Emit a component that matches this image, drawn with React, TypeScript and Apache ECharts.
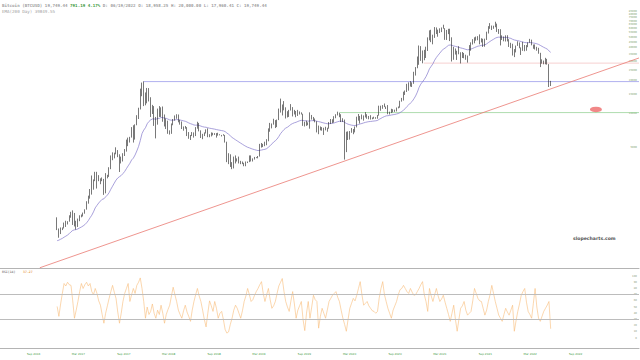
import React, { useEffect, useRef } from "react";
import * as echarts from "echarts";

// ---- weekly bars (week starting on the date, first week 2017-01-01) ----
const firstWeek = "2017-01-01";
const firstOpen = 998;

const weeklyClose = [
  // 2017
  910, 820, 925, 915, 1015, 1000, 1050, 1150, 1270, 1230, 1030, 960, 1080, 1180, 1180, 1250, 1350, 1550, 1750, 2050,
  2050, 2510, 2950, 2510, 2590, 2500, 2500, 1930, 2750, 2750, 3230, 4060, 4080, 4380, 4600, 4200, 3700, 3700, 4400, 4800,
  5700, 6000, 6150, 7400, 5950, 8000, 9700, 11250, 15000, 19100, 14000, 12600,
  // 2018
  17100, 14000, 12800, 11400, 9100, 8100, 11100, 9700, 11500, 8900, 7900, 8500, 6900, 6900, 8000, 8900, 9350, 9800, 8500, 8200,
  7480, 7700, 7600, 6500, 6150, 6400, 6750, 6250, 7400, 8200, 7050, 6250, 6400, 6700, 7200, 6400, 6500, 6700, 6650, 6600,
  6300, 6450, 6450, 6350, 6400, 5600, 3900, 4200, 3400, 3200, 3950, 3800,
  // 2019
  3850, 3650, 3700, 3580, 3500, 3650, 3650, 4100, 3830, 3950, 4050, 4000, 4100, 5050, 5070, 5300, 5200, 5800, 7000, 7300,
  8050, 8550, 7800, 8800, 10700, 11900, 11000, 11400, 10500, 9500, 10800, 11300, 10350, 10100, 9600, 10500, 10350, 9950, 8200, 8150,
  8300, 7950, 9250, 9300, 8800, 8500, 7300, 7550, 7500, 7100, 7150, 7300,
  // 2020
  7400, 8100, 8900, 8450, 9350, 9850, 9900, 9700, 8550, 8900, 5350, 5850, 6250, 6750, 6900, 7250, 7550, 8900, 9550, 9400,
  9200, 9700, 9650, 9450, 9350, 9000, 9100, 9250, 9150, 9700, 11800, 11600, 11900, 11700, 11500, 10150, 10400, 11100, 10700, 10600,
  11300, 11350, 13100, 13800, 15000, 16050, 18700, 17750, 19150, 18800, 23850, 26450, 32200,
  // 2021
  40250, 36000, 32100, 34300, 39300, 47200, 55900, 46300, 48900, 61200, 58100, 55900, 57100, 59800, 60000, 50000, 57800, 58800, 46400, 37500,
  34700, 35800, 35500, 35500, 32300, 34700, 33800, 31800, 33800, 41500, 44600, 47100, 49200, 48900, 50000, 45100, 48300, 42800, 48200, 54900,
  60900, 61300, 62000, 61500, 64200, 59700, 54800, 49300, 49400, 46800, 50800, 47700,
  // 2022
  41800, 43100, 35100, 37900, 41600, 42200, 40100, 39100, 39000, 38800, 42200, 44500, 45800, 42800, 40400, 39700, 37700, 35500, 30100, 29400,
  29000, 29700, 28400, 19000, 19750,
];

const weeklyHigh = [
  // 2017
  1150, 910, 930, 930, 1030, 1070, 1060, 1200, 1290, 1330, 1260, 1070, 1120, 1200, 1220, 1270, 1360, 1610, 1810, 2080,
  2760, 2540, 2980, 2980, 2780, 2600, 2650, 2570, 2900, 2800, 3280, 4200, 4480, 4450, 4980, 4700, 4300, 4100, 4400, 4800,
  5850, 6100, 6200, 7600, 7900, 8050, 9750, 11400, 17000, 19300, 19800, 15700,
  // 2018
  17250, 17200, 14200, 12100, 11800, 9400, 11200, 11800, 11500, 11700, 9900, 9100, 8700, 7100, 8200, 9000, 9700, 9950, 9900, 8850,
  8550, 7700, 7780, 7600, 6850, 6450, 6850, 6800, 7600, 8500, 8300, 7100, 6600, 6800, 7250, 7400, 6550, 6800, 6750, 6700,
  6700, 6750, 6550, 6450, 6550, 6450, 5600, 4400, 4300, 3650, 4100, 4200,
  // 2019
  3950, 4100, 3750, 3700, 3600, 3700, 3700, 4200, 4200, 3950, 4070, 4050, 4150, 5350, 5450, 5350, 5600, 5900, 7400, 8300,
  8200, 9050, 8800, 8900, 11200, 13800, 12200, 13100, 11500, 10600, 10900, 12300, 11550, 10900, 10650, 10900, 10550, 10350, 10050, 8500,
  8700, 8400, 10350, 9800, 9400, 9100, 8600, 7850, 7700, 7600, 7500, 7650,
  // 2020
  7500, 8450, 9000, 8950, 9550, 9950, 10500, 10250, 9950, 9150, 8900, 6900, 6950, 7000, 7450, 7300, 7700, 9450, 10000, 9600,
  9900, 9700, 10400, 9950, 9600, 9750, 9300, 9450, 9350, 9800, 11900, 11900, 12050, 12450, 11700, 12050, 10500, 11150, 11050, 10950,
  11450, 11700, 13200, 14000, 15950, 16350, 18800, 19400, 19900, 19400, 24200, 26700, 33300,
  // 2021
  41950, 41400, 37800, 38300, 40900, 49700, 57600, 58300, 52600, 61700, 61200, 58500, 60100, 61200, 64800, 60300, 58100, 59500, 59600, 49800,
  40800, 39400, 37600, 41300, 36400, 36600, 35900, 34600, 34000, 42300, 44800, 47900, 49800, 50500, 51000, 52900, 48800, 48300, 48400, 56000,
  62900, 67000, 63700, 63500, 69000, 66300, 59200, 59000, 51900, 50600, 51900, 52000,
  // 2022
  47900, 44400, 43500, 38900, 41900, 45800, 44700, 40300, 45300, 42400, 42300, 44800, 48200, 47400, 42800, 42900, 40800, 40000, 36000, 31400,
  30600, 32400, 31700, 28400, 20000,
];

const weeklyLow = [
  // 2017
  880, 750, 810, 880, 910, 940, 990, 1050, 1140, 980, 950, 890, 940, 1060, 1150, 1170, 1240, 1350, 1530, 1700,
  1850, 2050, 2450, 2100, 2450, 2300, 2450, 1840, 1900, 2600, 2680, 3150, 3800, 3950, 4300, 4050, 2970, 3550, 3700, 4150,
  4550, 5100, 5500, 6100, 5500, 5850, 7900, 9000, 11000, 14500, 11800, 12000,
  // 2018
  12500, 13000, 9400, 10000, 7800, 6000, 8000, 9400, 9400, 8500, 7700, 7300, 6600, 6500, 6600, 7900, 8700, 9050, 8400, 8000,
  7300, 7050, 7350, 6300, 5950, 5800, 6300, 6100, 6300, 7350, 6950, 6050, 5900, 6300, 6650, 6150, 6150, 6250, 6400, 6450,
  6100, 6350, 6400, 6250, 6350, 5500, 3650, 3500, 3300, 3150, 3200, 3550,
  // 2019
  3700, 3550, 3500, 3500, 3350, 3350, 3580, 3650, 3700, 3700, 3850, 3970, 3950, 4100, 4950, 5000, 5100, 5200, 5650, 6900,
  7400, 8000, 7450, 7600, 8800, 10300, 9700, 10800, 9100, 9300, 9400, 10750, 9500, 9900, 9350, 9600, 9900, 9900, 7800, 7700,
  7800, 7900, 7350, 8900, 8700, 8400, 6800, 6550, 7100, 7050, 6450, 7100,
  // 2020
  6900, 7350, 8100, 8250, 8350, 9150, 9700, 9350, 8450, 8450, 3850, 4500, 5800, 5850, 6750, 6550, 6800, 7550, 8700, 8200,
  8950, 8700, 9300, 9050, 8950, 8900, 8950, 9050, 9050, 9050, 9650, 10700, 11150, 11550, 11100, 9950, 9900, 10200, 10350, 10450,
  10550, 11250, 11400, 12950, 13250, 14900, 15850, 16300, 17750, 17600, 18800, 22350, 26050,
  // 2021
  28000, 30400, 28900, 30800, 32300, 37400, 46700, 45000, 43000, 49200, 53300, 50400, 54500, 55500, 59600, 47200, 47100, 53200, 46000, 30000,
  31100, 34700, 31000, 34900, 28800, 32300, 32100, 31100, 29300, 33900, 37600, 42800, 43900, 46400, 46800, 43000, 44700, 40700, 40900, 47100,
  53900, 59500, 58000, 59500, 61500, 55700, 53500, 42000, 47100, 45800, 45600, 45700,
  // 2022
  40700, 39700, 34000, 32900, 36300, 41600, 39600, 34400, 37500, 37200, 37600, 40500, 44400, 42100, 39200, 38600, 37600, 35300, 26700, 28700,
  28300, 28300, 28100, 17600, 17960,
];

// RSI(14), one reading per week
const rsi14 = [
  51, 35, 55, 72, 88, 84, 90, 86, 85, 60,
  32, 45, 59, 75, 88, 80, 86, 90, 84, 88,
  75, 70, 80, 72, 60, 53, 38, 24, 40, 52,
  64, 75, 85, 74, 64, 42, 24, 40, 59, 72,
  80, 88, 59, 70, 80, 72, 85, 90, 97, 80,
  59, 32, 50, 38, 43, 55, 40, 32, 45, 38,
  53, 40, 24, 38, 46, 53, 68, 82, 70, 59,
  45, 38, 32, 44, 53, 42, 35, 27, 45, 59,
  70, 80, 68, 59, 45, 30, 18, 40, 60, 52,
  43, 59, 48, 32, 40, 43, 30, 14, 8, 10,
  22, 32, 45, 53, 48, 40, 32, 44, 59, 68,
  80, 70, 59, 62, 69, 75, 80, 86, 91, 72,
  59, 70, 80, 62, 48, 52, 59, 72, 84, 90,
  96, 75, 59, 50, 43, 60, 75, 55, 32, 45,
  52, 59, 30, 12, 40, 59, 32, 50, 69, 62,
  59, 16, 35, 48, 40, 32, 45, 59, 64, 69,
  72, 75, 66, 59, 45, 32, 22, 11, 30, 48,
  56, 64, 60, 69, 80, 91, 70, 53, 56, 59,
  52, 48, 44, 43, 40, 43, 65, 80, 91, 70,
  59, 48, 40, 32, 45, 52, 59, 70, 78, 80,
  85, 80, 75, 72, 80, 74, 69, 70, 75, 80,
  86, 91, 70, 59, 43, 80, 68, 59, 70, 80,
  68, 59, 63, 69, 58, 48, 38, 27, 40, 53,
  30, 11, 30, 48, 52, 59, 45, 37, 40, 43,
  60, 80, 72, 64, 60, 59, 48, 37, 45, 59,
  70, 85, 72, 59, 48, 37, 32, 27, 38, 48,
  42, 37, 45, 53, 11, 28, 43, 55, 69, 75,
  80, 58, 43, 38, 32, 56, 80, 50, 32, 27,
  35, 43, 48, 53, 59, 15,
];

const emaSeed = 690; // EMA(200 Day) level at the first bar
const emaDays = 200;

// ---- axes ----
const xStart = "2016-05-15";
const xEnd = "2023-06-11";
const dateTicks = [
  "2016-09-01", "2017-03-01", "2017-09-01", "2018-03-01", "2018-09-01", "2019-03-01", "2019-09-01",
  "2020-03-01", "2020-09-01", "2021-03-01", "2021-09-01", "2022-03-01", "2022-09-01",
];
const priceMin = 398;
const priceMax = 108730;
const priceTicks = [
  5000, 10000, 15000, 20000, 25000, 30000, 35000, 40000, 45000, 50000, 55000, 60000, 65000, 70000, 75000, 80000, 85000, 90000,
];
const rsiTicks = [0, 10, 20, 30, 40, 50, 60, 70, 80, 90, 100];
const rsiBands = [30, 70];

// ---- drawn lines ----
const level2017: [string, number][] = [["2017-12-17", 19700], [xEnd, 19700]];
const level2020: [string, number][] = [["2020-02-16", 10300], [xEnd, 10300]];
const level2021: [string, number][] = [["2021-01-22", 29000], [xEnd, 29000]];
const trendLine: [string, number][] = [["2016-10-23", 400], [xEnd, 32300]];
const alertMark: [string, number][] = [["2022-12-19", 11000]];

// ---- texts ----
const hdrName = "Bitcoin (BTCUSD) 19,749.44 ";
const hdrChange = "791.19 4.17%";
const hdrRest = " D: 06/19/2022 O: 18,958.25 H: 20,000.00 L: 17,960.41 C: 19,749.44";
const emaLabel = "EMA(200 Day) 39849.55";
const rsiLabel = "RSI(14)";
const rsiValue = "37.27";
const watermark = "slopecharts.com";
const MONTHS = ["Jan", "Feb", "Mar", "Apr", "May", "Jun", "Jul", "Aug", "Sep", "Oct", "Nov", "Dec"];

export default function App() {
  const ref = useRef<HTMLDivElement>(null);

  useEffect(() => {
    if (!ref.current) return;
    const chart = echarts.init(ref.current, null, { renderer: "svg" });
    const t = (s: string) => Date.parse(s);
    const WEEK = 7 * 86400000;
    const t0 = t(firstWeek);
    const dates = weeklyClose.map((_, i) => t0 + i * WEEK);
    const candles = weeklyClose.map((c, i) => [
      dates[i],
      i === 0 ? firstOpen : weeklyClose[i - 1],
      c,
      weeklyLow[i],
      weeklyHigh[i],
    ]);
    const alpha = 2 / (emaDays / 7 + 1);
    let e = emaSeed;
    const ema = weeklyClose.map((c, i) => {
      e = e + alpha * (c - e);
      return [dates[i], e];
    });
    const rsi = rsi14.map((v, i) => [dates[i], v]);
    const pts = (arr: [string, number][]) => arr.map(([d, v]) => [t(d), v]);

    const mono = "DejaVu Sans Mono";
    const hline = (data: [string, number][], color: string) => ({
      type: "line",
      xAxisIndex: 0,
      yAxisIndex: 0,
      data: pts(data),
      symbol: "none",
      silent: true,
      lineStyle: { color, width: 0.8 },
      z: 1,
    });

    chart.setOption({
      animation: false,
      backgroundColor: "#ffffff",
      textStyle: { fontFamily: "DejaVu Sans" },
      title: [
        {
          left: 2,
          top: 3,
          padding: 0,
          text: `{g|${hdrName}}{u|${hdrChange}}{g|${hdrRest}}`,
          textStyle: {
            rich: {
              g: { fontFamily: mono, fontSize: 4.2, color: "#a0a0a0", lineHeight: 5 },
              u: { fontFamily: mono, fontSize: 4.2, color: "#3c9a3c", fontWeight: "bold", lineHeight: 5 },
            },
          },
        },
        {
          left: 2,
          top: 9,
          padding: 0,
          text: emaLabel,
          textStyle: { fontFamily: mono, fontSize: 4.2, color: "#a0a0a0", fontWeight: "normal", lineHeight: 5 },
        },
        {
          left: 2,
          top: 269.5,
          padding: 0,
          text: `{g|${rsiLabel}}{s|    }{o|${rsiValue}}`,
          textStyle: {
            rich: {
              g: { fontFamily: mono, fontSize: 3.2, color: "#8c8c8c", lineHeight: 4 },
              s: { fontFamily: mono, fontSize: 3.2, lineHeight: 4 },
              o: { fontFamily: mono, fontSize: 3.2, color: "#e8a050", lineHeight: 4 },
            },
          },
        },
      ],
      graphic: [
        {
          type: "text",
          left: 573,
          top: 236,
          style: {
            text: watermark,
            fontSize: 4.6,
            fontWeight: "bold",
            fill: "#555555",
            fontFamily: "DejaVu Sans",
          },
        },
      ],
      grid: [
        { left: 0, right: 0, top: 0, height: 268 },
        { left: 0, right: 0, top: 268, height: 80 },
      ],
      xAxis: [
        {
          type: "value",
          gridIndex: 0,
          min: t(xStart),
          max: t(xEnd),
          axisLine: { show: true, onZero: false, lineStyle: { color: "#b4b4b4", width: 1 } },
          axisTick: { show: false },
          axisLabel: { show: false },
          splitLine: { show: false },
        },
        {
          type: "value",
          gridIndex: 1,
          min: t(xStart),
          max: t(xEnd),
          axisLine: { show: true, onZero: false, lineStyle: { color: "#b4b4b4", width: 1 } },
          axisTick: { show: false },
          splitLine: { show: false },
          axisLabel: {
            customValues: dateTicks.map(t),
            formatter: (v: number) => {
              const d = new Date(v);
              return MONTHS[d.getUTCMonth()] + " " + d.getUTCFullYear();
            },
            fontSize: 2.8,
            color: "#3f9a3f",
            margin: 4,
            align: "left",
          },
        },
      ],
      yAxis: [
        {
          type: "log",
          gridIndex: 0,
          position: "right",
          min: priceMin,
          max: priceMax,
          axisLine: { show: false },
          axisTick: { show: false },
          splitLine: { show: false },
          axisLabel: {
            inside: true,
            customValues: priceTicks,
            formatter: (v: number) => String(v),
            fontSize: 2.6,
            color: "#7aa06a",
            margin: 2,
          },
        },
        {
          type: "value",
          gridIndex: 1,
          position: "right",
          min: -16,
          max: 113,
          axisLine: { show: false },
          axisTick: { show: false },
          splitLine: { show: false },
          axisLabel: {
            inside: true,
            customValues: rsiTicks,
            fontSize: 2.6,
            color: "#8a9a80",
            margin: 2,
          },
        },
      ],
      series: [
        hline(level2017, "#9a9aea"),
        hline(level2020, "#9ad49a"),
        hline(level2021, "#f4c4c4"),
        {
          type: "line",
          xAxisIndex: 0,
          yAxisIndex: 0,
          data: ema,
          symbol: "none",
          silent: true,
          lineStyle: { color: "#8478cc", width: 0.7 },
          z: 2,
        },
        {
          type: "candlestick",
          xAxisIndex: 0,
          yAxisIndex: 0,
          data: candles,
          encode: { x: 0, y: [1, 2, 3, 4] },
          barWidth: 1.1,
          silent: true,
          itemStyle: {
            color: "#1e1e1e",
            color0: "#1e1e1e",
            borderColor: "#1e1e1e",
            borderColor0: "#1e1e1e",
            borderWidth: 0.6,
          },
          z: 3,
        },
        {
          type: "line",
          xAxisIndex: 0,
          yAxisIndex: 0,
          data: pts(trendLine),
          symbol: "none",
          silent: true,
          lineStyle: { color: "#ea7a72", width: 0.8 },
          z: 4,
        },
        {
          type: "scatter",
          xAxisIndex: 0,
          yAxisIndex: 0,
          data: pts(alertMark),
          symbol: "circle",
          symbolSize: [12, 5.5],
          silent: true,
          itemStyle: { color: "#ee6a6a" },
          z: 5,
        },
        {
          type: "line",
          xAxisIndex: 1,
          yAxisIndex: 1,
          data: rsi,
          symbol: "none",
          silent: true,
          lineStyle: { color: "#f8bc78", width: 0.6 },
          markLine: {
            silent: true,
            symbol: ["none", "none"],
            label: { show: false },
            lineStyle: { color: "#bcbcbc", type: "solid", width: 1 },
            data: rsiBands.map((v) => ({ yAxis: v })),
          },
        },
      ],
    });

    return () => chart.dispose();
  }, []);

  return (
    <div
      ref={ref}
      style={{ position: "fixed", left: 0, top: 0, width: 640, height: 360, background: "#ffffff" }}
    />
  );
}
